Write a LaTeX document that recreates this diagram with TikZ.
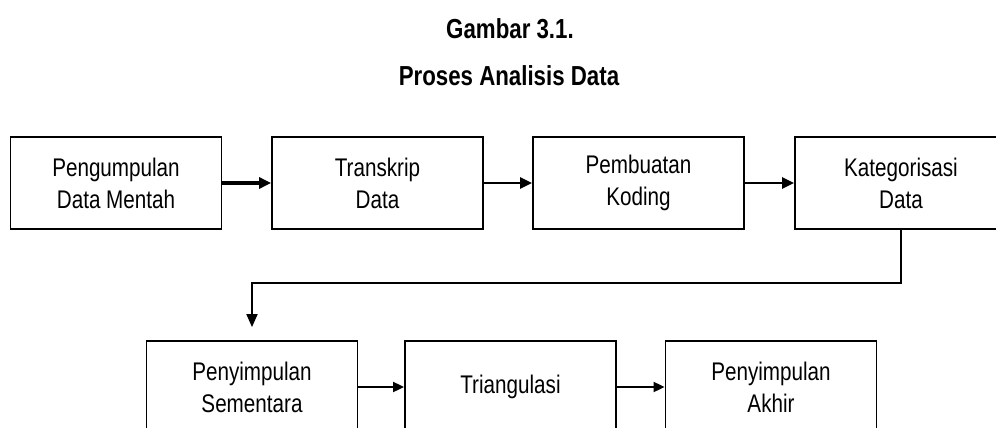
\documentclass[tikz,border=0pt]{standalone}
\usepackage{fontspec}
\setmainfont{Liberation Sans}[FakeStretch=0.81]
\usetikzlibrary{arrows.meta,calc}
\begin{document}
\begin{tikzpicture}[x=1pt,y=-1pt,
  box/.style={draw, line width=1.8pt, inner sep=0pt, align=center,
    minimum width=211pt, minimum height=92pt,
    font=\fontsize{25.5}{32}\selectfont},
  ttl/.style={inner sep=0pt, font=\bfseries\fontsize{27.5}{32}\selectfont},
  arr/.style={line width=2.4pt, -{Triangle[length=12pt,width=11pt]}},
  thinarr/.style={line width=1.8pt, -{Triangle[length=11pt,width=10pt]}}]
\useasboundingbox (0,0) rectangle (996,428);
\clip (0,0) rectangle (996,428);
\fill[white] (0,0) rectangle (996,428);
\node[ttl] (t1) at (510,29) {Gambar 3.1.};
\node[ttl] (t2) at (509,76) {Proses Analisis Data};
\node[box] (b1) at (116,183) {Pengumpulan\\Data Mentah};
\node[box] (b2) at (377.5,183) {Transkrip\\Data};
\node[box] (b3) at (638.5,183) {Pembuatan\\Koding};
\node[box, minimum width=212pt] (b4) at (901,183) {Kategorisasi\\Data};
\node[box] (b5) at (252,387) {Penyimpulan\\Sementara};
\node[box] (b6) at (510.5,387) {Triangulasi};
\node[box] (b7) at (771,387) {Penyimpulan\\Akhir};
\coordinate (c5) at ($(b5.north)+(0,-13)$);
\draw[arr, line width=3.2pt] (b1) -- (b2);
\draw[arr] (b2) -- (b3);
\draw[arr] (b3) -- (b4);
\draw[line width=1.8pt, -{Triangle[length=13pt,width=11pt]}] (b4.south) -- ++(0,53) -| (c5);
\draw[thinarr] (b5) -- (b6);
\draw[thinarr] (b6) -- (b7);
\end{tikzpicture}
\end{document}
